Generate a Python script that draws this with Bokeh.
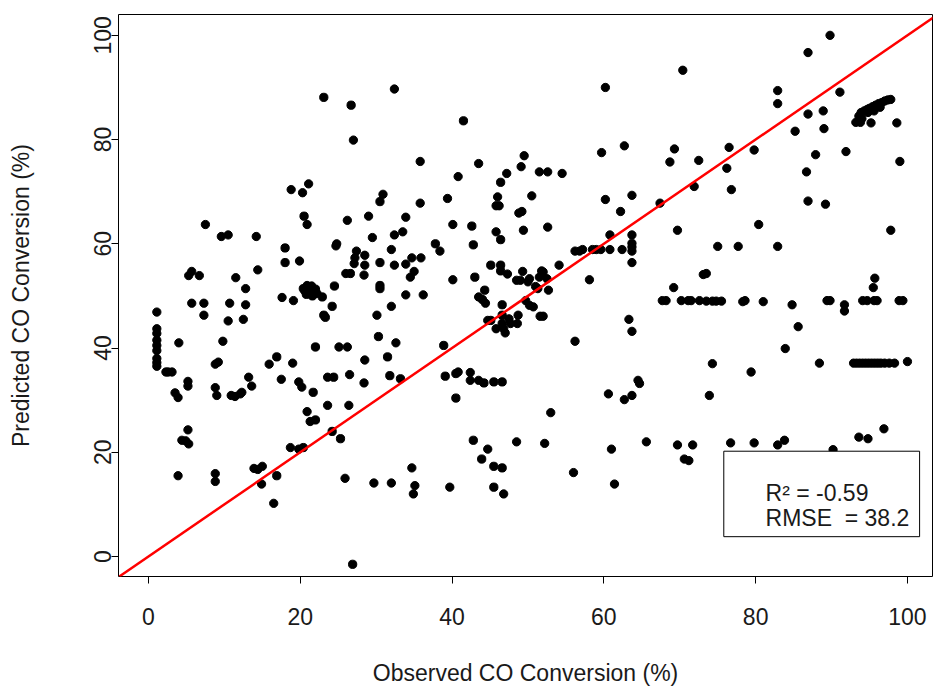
from bokeh.plotting import figure
from bokeh.models import Range1d, FixedTicker, Slope, BoxAnnotation, Label
from bokeh.embed import file_html
from bokeh.resources import INLINE

# Observed vs predicted CO conversion (%)
observed = [
    23.1, 18.8, 20.3, 21.1, 26.7, 32.4, 41.5, 27.0, 35.8, 43.5, 40.8, 49.5, 49.1, 47.2, 46.4, 46.0,
    30.9, 30.5, 35.8, 39.4,
    70.4, 60.2, 59.7, 62.7, 69.3, 68.7, 72.5, 76.5, 76.2, 51.5, 52.6, 54.5, 50.5, 60.2, 63.7, 67.4,
    71.9, 76.8,
    89.8, 86.9, 82.9, 82.9, 91.1, 86.9, 88.9, 89.0, 85.2, 79.8, 87.9, 91.9, 86.7, 99.0, 86.9, 89.2,
    93.2, 93.6, 93.9, 94.3, 94.7, 95.0, 95.4, 95.8, 96.2, 96.6, 97.0, 97.4, 97.8, 94.0, 94.8, 95.6,
    96.4, 93.8, 95.2, 98.6,
    45.8, 46.2, 48.8, 49.2, 49.4, 26.2, 29.0, 33.9, 40.1, 42.6, 45.8, 46.4, 42.8, 29.5, 32.4, 33.5,
    24.8, 24.7, 27.4, 28.5, 27.2, 27.1, 28.5, 32.0, 37.8, 38.4, 30.5, 32.4, 33.9, 34.7, 35.9, 35.0,
    34.5, 26.0, 26.6, 28.4, 24.5, 30.5, 30.5, 33.9, 36.2, 40.1, 43.0, 45.1, 46.4, 46.4, 47.3, 49.3,
    48.5, 49.0, 44.3, 43.5, 44.0, 44.4, 46.6, 22.9, 24.2, 23.1, 23.3, 32.0, 30.1, 30.3, 32.6, 25.1,
    26.2, 28.5, 31.5, 26.5, 23.6, 24.4, 28.4, 31.8, 33.2, 38.9, 39.1, 40.5, 40.8, 42.4, 42.4, 43.5,
    44.2, 45.5, 46.6, 45.1, 44.7, 46.6, 47.5, 46.6, 46.8, 45.8, 47.0, 47.7, 48.6, 48.7, 49.7,
    20.5, 20.9, 7.5, 9.6, 10.5, 14.2, 18.0, 18.0, 19.9, 14.4, 5.7, 5.3, 6.7, 11.5, 12.8, 17.6, 19.1,
    20.4, 20.9, 21.5, 22.0, 22.2, 21.6, 20.8, 21.0, 20.6,
    5.7, 7.3, 7.3, 10.7, 12.8, 10.5, 12.5, 1.1,
    1.1, 1.1, 1.1, 1.1, 1.1, 1.1, 1.1, 1.1,
    2.3, 2.6, 3.1, 4.0, 9.8, 22.0, 16.9, 15.9, 19.0, 8.8, 9.2, 13.2, 13.6, 5.2, 5.2, 8.8, 17.5,
    19.8, 20.2,
    3.5, 3.9, 9.0, 10.9, 11.4, 12.1, 12.3, 21.7, 20.9, 21.3, 22.0, 5.2, 4.4, 4.9, 5.3, 18.7, 19.8,
    20.4, 3.9, 8.8, 8.8, 13.9, 14.4, 15.0, 14.9, 16.9, 16.5,
    23.6, 26.4, 24.2, 25.3, 25.9, 29.7, 32.0, 34.7, 35.1, 34.9, 26.9, 40.5, 39.7, 42.8, 44.7, 43.9,
    45.5, 46.6, 45.5, 46.8, 48.5,
    62.2, 52.6, 60.8, 69.7, 75.0, 77.7,
    56.2, 56.8, 57.2, 58.5, 59.0, 59.6, 60.8, 62.4,
    63.7, 63.7, 63.7, 63.7, 63.7, 54.1, 58.1,
    51.8, 52.0, 51.5, 50.2, 50.0, 52.5, 51.0, 51.3, 52.7, 50.2, 50.7, 51.6, 52.0,
    63.3, 63.7, 56.2, 69.2, 73.1, 73.5,
    67.7, 68.2, 70.2, 71.1, 71.5, 72.6, 73.5, 74.3, 74.8, 75.5,
    74.3, 64.5, 64.7,
    80.4, 97.8, 82.9, 95.7, 95.5,
    78.3, 78.6, 81.0, 84.8, 89.4, 89.8, 91.7, 91.7, 94.1, 94.7, 95.6, 96.0, 98.9, 99.4,
    85.6, 83.9, 88.4, 79.4,
    92.9, 93.3, 93.7, 94.1, 94.5, 94.9, 95.3, 95.7, 96.1, 96.5, 97.0, 97.6, 98.3, 100.0,
    60.6, 62.7, 63.7, 73.9, 53.0, 52.2, 56.0, 61.0, 61.4, 65.6, 69.7, 71.7, 70.6, 71.2, 76.7,
    79.8, 82.9, 83.8, 90.2, 93.6, 94.8, 96.9,
]

predicted = [
    88.1, 70.4, 69.8, 71.5, 86.6, 89.7, 83.6, 79.9, 75.8, 75.4, 72.9, 76.9, 74.8, 73.5, 71.8, 69.0,
    69.5, 68.1, 67.8, 68.7,
    93.3, 90.0, 77.5, 78.8, 78.2, 75.7, 76.0, 78.5, 74.5, 73.8, 73.8, 73.5, 69.2, 68.5, 69.3, 67.8,
    71.0, 70.4,
    100.0, 96.7, 89.4, 86.9, 89.1, 84.9, 85.5, 82.1, 81.6, 78.0, 77.1, 77.7, 73.8, 75.8, 68.2, 67.6,
    83.3, 84.5, 85.2, 85.5, 85.8, 86.0, 86.3, 86.6, 86.9, 87.1, 87.4, 87.6, 87.7, 84.0, 85.2, 85.5,
    86.2, 83.3, 83.2, 83.2,
    67.3, 67.3, 65.9, 66.2, 62.6, 64.5, 65.3, 65.1, 63.7, 63.4, 62.3, 60.8, 59.8, 61.2, 61.7, 62.3,
    60.0, 59.6, 58.6, 57.8, 57.3, 56.2, 55.9, 58.9, 60.0, 58.6, 56.4, 55.9, 56.1, 57.3, 57.3, 54.7,
    53.6, 54.3, 54.3, 54.0, 51.9, 52.0, 51.4, 50.2, 50.2, 53.1, 53.6, 55.9, 55.9, 54.8, 54.2, 54.7,
    53.0, 53.0, 51.1, 49.8, 49.3, 48.6, 48.3, 49.8, 48.0, 46.3, 45.9, 48.0, 46.3, 42.2, 41.0, 40.2,
    40.2, 37.7, 38.3, 34.9, 34.4, 34.4, 33.3, 34.7, 34.1, 40.5, 34.6, 35.1, 35.4, 35.3, 33.8, 33.8,
    33.3, 33.5, 33.5, 45.3, 45.3, 46.3, 45.6, 44.7, 43.7, 43.7, 42.9, 44.7, 44.7, 46.3, 49.1,
    65.3, 63.7, 63.7, 61.4, 61.7, 61.4, 59.2, 56.4, 56.7, 55.0, 54.7, 53.9, 53.9, 53.5, 51.4, 49.7, 49.1,
    51.4, 52.0, 51.9, 51.3, 50.5, 50.0, 50.3, 50.9, 51.0,
    48.6, 48.6, 46.3, 48.6, 48.3, 45.2, 45.5, 46.9,
    43.7, 42.8, 41.5, 40.5, 39.5, 38.0, 37.2, 36.5,
    35.4, 35.4, 35.4, 41.0, 41.3, 40.2, 38.3, 36.9, 37.1, 36.9, 37.3, 34.4, 32.7, 33.6, 32.7, 32.4, 34.0,
    33.5, 32.5,
    31.4, 30.5, 30.9, 30.9, 30.7, 31.2, 31.5, 31.5, 27.8, 25.9, 26.2, 24.3, 22.3, 22.2, 21.6, 20.9, 20.6,
    20.9, 15.5, 15.9, 14.4, 16.9, 16.7, 17.3, 13.9, 15.5, 10.2,
    29.0, 29.0, 24.0, 22.6, 15.0, 14.1, 14.1, 17.0, 13.6, 12.0, -1.5, 30.4, 13.3, 22.3, 20.6, 18.7,
    17.3, 17.0, 13.3, 12.0, 22.0,
    66.2, 63.2, 61.7, 62.6, 59.5, 59.5,
    58.6, 58.6, 58.9, 58.9, 58.9, 58.9, 58.9, 58.9,
    61.7, 60.1, 59.4, 58.6, 56.4, 55.9, 53.1,
    54.8, 54.6, 53.6, 53.3, 52.7, 53.3, 51.8, 51.4, 51.1, 48.2, 47.9, 46.1, 46.1,
    45.5, 43.2, 41.3, 51.6, 54.1, 54.3,
    49.1, 49.1, 49.1, 49.1, 49.1, 49.1, 49.0, 49.0, 49.0, 49.0,
    37.0, 33.8, 33.2,
    63.7, 62.6, 59.5, 53.4, 51.6,
    48.9, 49.1, 48.9, 48.3, 49.1, 49.1, 48.3, 47.1, 49.1, 49.1, 49.1, 49.1, 49.1, 49.1,
    44.1, 39.9, 37.1, 35.4,
    37.1, 37.1, 37.1, 37.1, 37.1, 37.1, 37.1, 37.1, 37.1, 37.1, 37.1, 37.1, 37.1, 37.4,
    31.2, 30.1, 30.9, 30.9, 27.6, 21.7, 16.1, 20.6, 13.9, 22.0, 21.4, 21.4, 18.7, 18.4, 21.8,
    21.8, 21.4, 22.3, 20.5, 22.9, 22.6, 24.5,
]

x_ticks = [0, 20, 40, 60, 80, 100]
y_ticks = [0, 20, 40, 60, 80, 100]
x_title = "Observed CO Conversion (%)"
y_title = "Predicted CO Conversion (%)"
stat_lines = ["R\u00b2 = -0.59", "RMSE\u00a0 = 38.2"]

FONT = "Liberation Sans"
FS = "23px"
TXT = "#1a1a1a"

p = figure(width=933, height=689, output_backend="svg", toolbar_location=None,
           x_range=Range1d(-3.95, 103.3), y_range=Range1d(-3.84, 104.0),
           min_border_left=118, min_border_right=1, min_border_top=14, min_border_bottom=113)
p.grid.visible = False
p.background_fill_color = "white"
p.border_fill_color = "white"
p.outline_line_color = "black"
p.outline_line_width = 1

for ax in (p.xaxis[0], p.yaxis[0]):
    ax.axis_line_color = None
    ax.major_tick_out = 7
    ax.major_tick_in = 0
    ax.minor_tick_line_color = None
    ax.major_tick_line_color = "black"
    ax.major_label_text_font = FONT
    ax.major_label_text_font_size = FS
    ax.major_label_text_color = TXT
    ax.axis_label_text_font = FONT
    ax.axis_label_text_font_size = FS
    ax.axis_label_text_font_style = "normal"
    ax.axis_label_text_color = TXT

p.xaxis.ticker = FixedTicker(ticks=x_ticks)
p.yaxis.ticker = FixedTicker(ticks=y_ticks)
p.xaxis.axis_label = x_title
p.yaxis.axis_label = y_title
p.xaxis.major_label_standoff = 24
p.xaxis.axis_label_standoff = 32
p.yaxis.major_label_orientation = "vertical"
p.yaxis.major_label_standoff = 0
p.yaxis.axis_label_standoff = 58

p.scatter(observed, predicted, size=8.3, color="black")

p.add_layout(Slope(gradient=1, y_intercept=0, line_color="red", line_width=2.5))

p.add_layout(BoxAnnotation(left=75.8, right=101.6, bottom=3.8, top=20.2,
                           fill_color="white", fill_alpha=1.0,
                           line_color="black", line_width=1, line_alpha=1.0))
p.add_layout(Label(x=81.3, y=12.1, text=stat_lines[0], text_font=FONT,
                   text_font_size=FS, text_baseline="alphabetic", text_color=TXT))
p.add_layout(Label(x=81.3, y=7.3, text=stat_lines[1], text_font=FONT,
                   text_font_size=FS, text_baseline="alphabetic", text_color=TXT))

open("out.html", "w").write(file_html(p, INLINE))
